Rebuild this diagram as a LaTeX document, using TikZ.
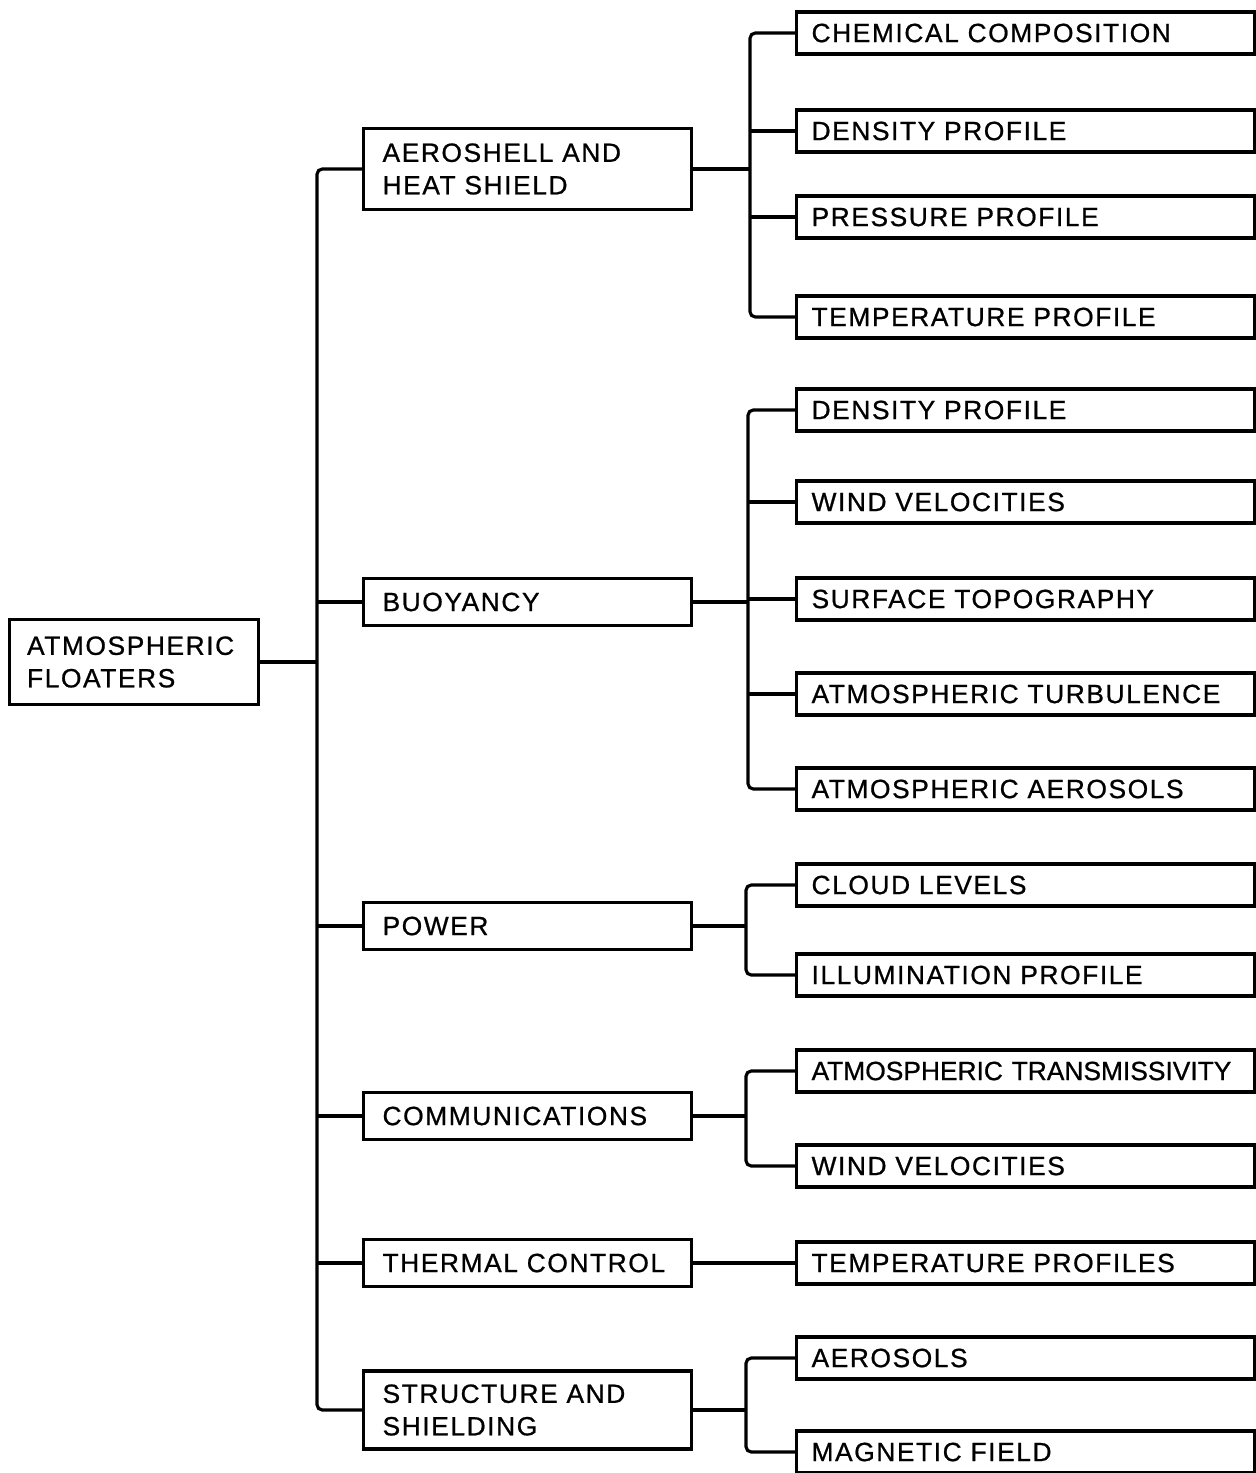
\documentclass[tikz,border=0pt]{standalone}
\usepackage{fontspec}
\setmainfont{Liberation Sans}
\newfontfamily\spacedfont[LetterSpace=6, FakeBold=0.8]{Liberation Sans}
\newfontfamily\tightfont[FakeBold=0.8]{Liberation Sans}
\usetikzlibrary{positioning}

\tikzset{
  lettering/.style={font=\spacedfont\fontsize{15}{18.5}\selectfont},
  rootbox/.style={draw, line width=1.8pt, anchor=west, lettering, align=left,
    text width=4.28cm, inner xsep=0.35cm, minimum height=1.7cm},
  midbox/.style={draw, line width=1.8pt, anchor=west, lettering, align=left,
    text width=5.8cm, inner xsep=0.38cm, minimum height=0.94cm},
  leafbox/.style={draw, line width=1.8pt, anchor=west, lettering, align=left,
    text width=8.56cm, inner xsep=0.3cm, minimum height=0.84cm},
  wire/.style={line width=1.8pt, rounded corners=3pt}
}

\begin{document}
\begin{tikzpicture}[x=0.02cm, y=-0.02cm]
      \useasboundingbox (0,0) rectangle (1255,1473);

      \node[rootbox] (r) at (8,662) {ATMOSPHERIC\\FLOATERS};

      \node[midbox, minimum height=1.62cm] (a1) at (362,169) {AEROSHELL AND\\HEAT SHIELD};
      \node[midbox] (a2) at (362,602) {BUOYANCY};
      \node[midbox] (a3) at (362,926) {POWER};
      \node[midbox] (a4) at (362,1116) {COMMUNICATIONS};
      \node[midbox] (a5) at (362,1263) {THERMAL CONTROL};
      \node[midbox, minimum height=1.56cm] (a6) at (362,1410) {STRUCTURE AND\\SHIELDING};

      \node[leafbox] (c1) at (795,33) {CHEMICAL COMPOSITION};
      \node[leafbox] (c2) at (795,131) {DENSITY PROFILE};
      \node[leafbox] (c3) at (795,217) {PRESSURE PROFILE};
      \node[leafbox] (c4) at (795,317) {TEMPERATURE PROFILE};

      \node[leafbox] (d1) at (795,410) {DENSITY PROFILE};
      \node[leafbox] (d2) at (795,502) {WIND VELOCITIES};
      \node[leafbox] (d3) at (795,599) {SURFACE TOPOGRAPHY};
      \node[leafbox] (d4) at (795,694) {ATMOSPHERIC TURBULENCE};
      \node[leafbox] (d5) at (795,789) {ATMOSPHERIC AEROSOLS};

      \node[leafbox] (e1) at (795,885) {CLOUD LEVELS};
      \node[leafbox] (e2) at (795,975) {ILLUMINATION PROFILE};

      \node[leafbox, font=\tightfont\fontsize{15}{18.5}\selectfont] (f1) at (795,1071) {ATMOSPHERIC TRANSMISSIVITY};
      \node[leafbox] (f2) at (795,1166) {WIND VELOCITIES};

      \node[leafbox] (g1) at (795,1263) {TEMPERATURE PROFILES};

      \node[leafbox] (h1) at (795,1358) {AEROSOLS};
      \node[leafbox] (h2) at (795,1452) {MAGNETIC FIELD};

      \coordinate (t) at (317,662);
      \coordinate (b1) at (750,169);
      \coordinate (b2) at (748,602);
      \coordinate (b3) at (746,926);
      \coordinate (b4) at (746,1116);
      \coordinate (b6) at (746,1410);

      \draw[wire] (a1.west) -| (t) |- (a6.west);
      \draw[wire] (r.east) -- (t);
      \draw[wire] (t |- a2.west) -- (a2.west);
      \draw[wire] (t |- a3.west) -- (a3.west);
      \draw[wire] (t |- a4.west) -- (a4.west);
      \draw[wire] (t |- a5.west) -- (a5.west);

      \draw[wire] (c1.west) -| (b1) |- (c4.west);
      \draw[wire] (a1.east) -- (b1);
      \draw[wire] (b1 |- c2.west) -- (c2.west);
      \draw[wire] (b1 |- c3.west) -- (c3.west);

      \draw[wire] (d1.west) -| (b2) |- (d5.west);
      \draw[wire] (a2.east) -- (b2);
      \draw[wire] (b2 |- d2.west) -- (d2.west);
      \draw[wire] (b2 |- d3.west) -- (d3.west);
      \draw[wire] (b2 |- d4.west) -- (d4.west);

      \draw[wire] (e1.west) -| (b3) |- (e2.west);
      \draw[wire] (a3.east) -- (b3);

      \draw[wire] (f1.west) -| (b4) |- (f2.west);
      \draw[wire] (a4.east) -- (b4);

      \draw[wire] (a5.east) -- (g1.west);

      \draw[wire] (h1.west) -| (b6) |- (h2.west);
      \draw[wire] (a6.east) -- (b6);
\end{tikzpicture}
\end{document}
